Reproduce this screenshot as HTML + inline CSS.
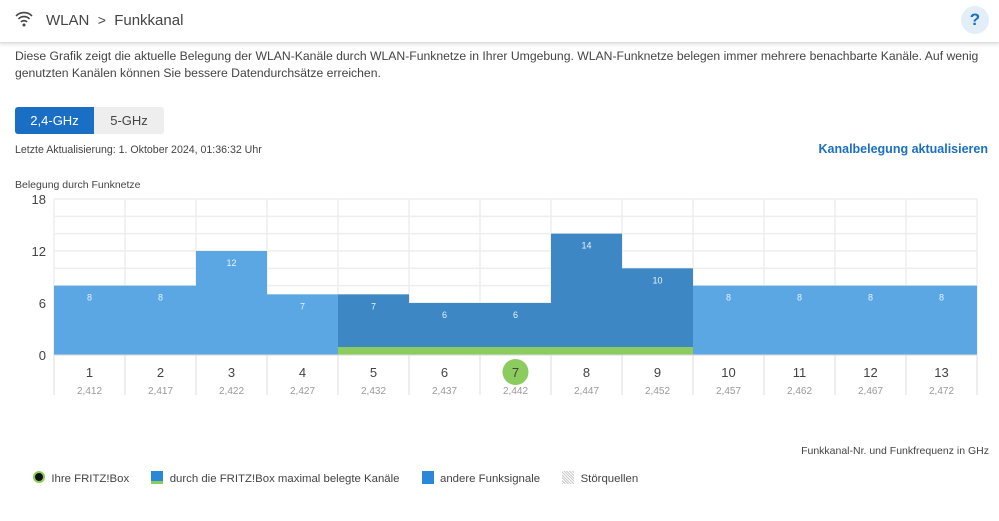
<!DOCTYPE html>
<html><head><meta charset="utf-8"><style>
body{margin:0;width:999px;height:521px;overflow:hidden;background:#fff;font-family:"Liberation Sans",sans-serif;color:#333;position:relative}
.abs{position:absolute;white-space:nowrap}
</style></head><body>
<div class="abs" style="left:0;top:0;width:999px;height:42px;border-bottom:1px solid #ddd;box-shadow:0 2px 3px rgba(0,0,0,.1)"></div>
<svg class="abs" style="left:15px;top:11px" width="18" height="16" viewBox="0 0 18 16"><path d="M1 5a11 11 0 0 1 16 0M3.5 8a7.5 7.5 0 0 1 11 0M6 11a4 4 0 0 1 6 0" stroke="#444" stroke-width="1.6" fill="none"/><circle cx="9" cy="14" r="1.5" fill="#444"/></svg>
<div class="abs" style="left:46px;top:12px;font-size:15px;color:#444">WLAN&nbsp;&nbsp;<span style="font-size:14px">&gt;</span>&nbsp;&nbsp;Funkkanal</div>
<div class="abs" style="left:961px;top:6px;width:28px;height:28px;border-radius:50%;background:#e3eef9;color:#1a6fc4;font-weight:bold;font-size:17px;text-align:center;line-height:28px">?</div>
<div class="abs" style="left:15px;top:48px;font-size:12.2px;line-height:17px;color:#444">Diese Grafik zeigt die aktuelle Belegung der WLAN-Kanäle durch WLAN-Funknetze in Ihrer Umgebung. WLAN-Funknetze belegen immer mehrere benachbarte Kanäle. Auf wenig<br>genutzten Kanälen können Sie bessere Datendurchsätze erreichen.</div>
<div class="abs" style="left:15px;top:107px;width:79px;height:27px;background:#1a6fc4;color:#fff;font-size:13px;text-align:center;line-height:27px;border-radius:3px 0 0 3px">2,4-GHz</div>
<div class="abs" style="left:94px;top:107px;width:70px;height:27px;background:#eee;color:#444;font-size:13px;text-align:center;line-height:27px;border-radius:0 3px 3px 0">5-GHz</div>
<div class="abs" style="left:15px;top:144px;font-size:10.6px;color:#444">Letzte Aktualisierung: 1. Oktober 2024, 01:36:32 Uhr</div>
<div class="abs" style="right:11px;top:142px;font-size:12.5px;color:#1a6fc4;font-weight:bold">Kanalbelegung aktualisieren</div>
<div class="abs" style="left:15px;top:179px;font-size:10.5px;color:#444">Belegung durch Funknetze</div>
<svg id="chart" class="abs" style="left:0;top:0" width="999" height="430"></svg>
<div class="abs" style="right:10px;top:445px;font-size:10.5px;color:#444">Funkkanal-Nr. und Funkfrequenz in GHz</div>
<div class="abs" style="left:33px;top:471px;font-size:11.4px;color:#444">
<span><span style="display:inline-block;width:8px;height:8px;border-radius:50%;background:#111;border:2px solid #8ccb5e;vertical-align:-1px"></span>&nbsp; Ihre FRITZ!Box</span>
<span style="margin-left:19px"><span style="display:inline-block;width:12px;height:10px;background:#2b88d8;border-bottom:3px solid #8ccb5e;vertical-align:-2px"></span>&nbsp; durch die FRITZ!Box maximal belegte Kanäle</span>
<span style="margin-left:19px"><span style="display:inline-block;width:12px;height:13px;background:#2b88d8;vertical-align:-2px"></span>&nbsp; andere Funksignale</span>
<span style="margin-left:19px"><span style="display:inline-block;width:12px;height:13px;background:repeating-linear-gradient(45deg,#ccc 0 1px,#fff 1px 2px);vertical-align:-2px"></span>&nbsp; Störquellen</span>
</div>
<script>
const channels=["1","2","3","4","5","6","7","8","9","10","11","12","13"];
const freqs=["2,412","2,417","2,422","2,427","2,432","2,437","2,442","2,447","2,452","2,457","2,462","2,467","2,472"];
const values=[8,8,12,7,7,6,6,14,10,8,8,8,8];
const fritzChannels=[5,6,7,8,9];
const ownChannel=7;
const yTicks=[0,6,12,18];
const yMax=18;
const NS="http://www.w3.org/2000/svg";
const svg=document.getElementById('chart');
const L=54,R=977,T=199,B=355;
const cw=(R-L)/channels.length;
const x=i=>L+i*cw;
const y=v=>B-(v/yMax)*(B-T);
function mk(t,a){const e=document.createElementNS(NS,t);for(const k in a)e.setAttribute(k,a[k]);svg.appendChild(e);return e;}
for(let v=0;v<=yMax;v+=2){const g=mk('line',{x1:L,x2:R,y1:y(v),y2:y(v),stroke:'#eee','stroke-width':1.5});

}
for(let i=0;i<=channels.length;i++){const g=mk('line',{x1:x(i),x2:x(i),y1:T,y2:B,stroke:'#eee','stroke-width':1.5});

}
yTicks.forEach(t=>{const e=mk('text',{x:46,y:y(t)+5,'text-anchor':'end','font-size':13,fill:'#444','font-family':'Liberation Sans'});e.textContent=t;

});
values.forEach((v,i)=>{const own=fritzChannels.includes(i+1);
const r=mk('rect',{x:x(i),y:y(v),width:cw,height:B-y(v),fill:own?'#3d87c4':'#5aa7e4'});


const t=mk('text',{x:x(i)+cw/2,y:y(v)+15,'text-anchor':'middle','font-size':9,fill:'#e8f2fb','font-family':'Liberation Sans'});t.textContent=v;


if(own){const g=mk('rect',{x:x(i),y:B-8,width:cw,height:8,fill:'#8ccb5e'});

}});
mk('line',{x1:L,x2:R,y1:B,y2:B,stroke:'#ddd'});
channels.forEach((c,i)=>{
const s=mk('line',{x1:x(i),x2:x(i),y1:B,y2:395,stroke:'#ddd'});


const cx=x(i)+cw/2;
if(+c===ownChannel){const ci=mk('circle',{cx:cx,cy:372,r:13,fill:'#8ccb5e'});

}
const t=mk('text',{x:cx,y:377,'text-anchor':'middle','font-size':13,fill:'#444','font-family':'Liberation Sans'});t.textContent=c;


const f=mk('text',{x:cx,y:394,'text-anchor':'middle','font-size':10,fill:'#999','font-family':'Liberation Sans'});f.textContent=freqs[i];

});
mk('line',{x1:x(channels.length),x2:x(channels.length),y1:B,y2:395,stroke:'#ddd'});
</script>
</body></html>
